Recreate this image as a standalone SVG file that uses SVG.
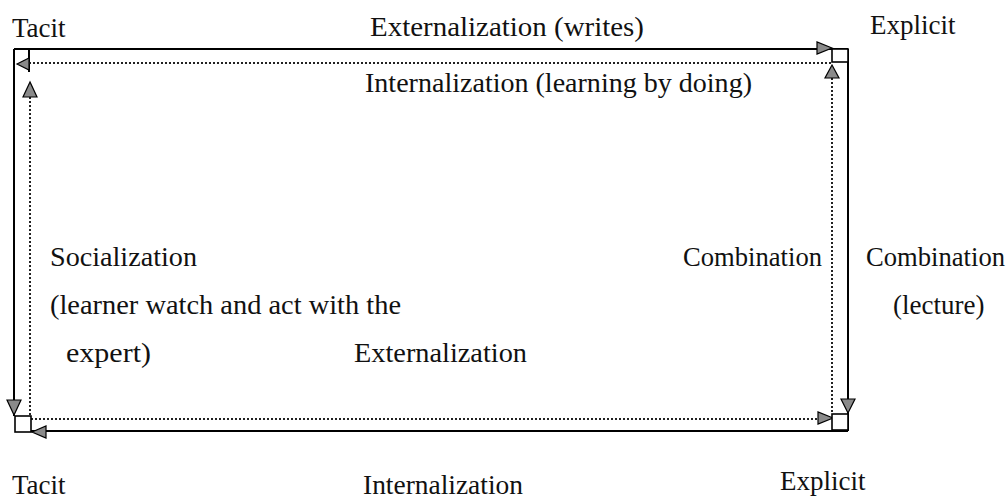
<svg xmlns="http://www.w3.org/2000/svg" width="1008" height="498" viewBox="0 0 1008 498">
<style>
  text { font-family: 'Liberation Serif', 'Times New Roman', serif; font-size: 27px; fill: #111; }
  .solid { stroke: #000; stroke-width: 2; fill: none; }
  .dot { stroke: #222; stroke-width: 2; stroke-dasharray: 2 2; fill: none; }
  .sq { stroke: #000; stroke-width: 1.6; fill: #fff; }
  .ah { fill: #8a8a8a; stroke: #000; stroke-width: 1.2; stroke-linejoin: miter; }
</style>
<rect width="1008" height="498" fill="#fff"/>

<g id="connectors">
  <path class="solid" d="M14,49 H848"/>
  <path class="solid" d="M848,49 V431"/>
  <path class="solid" d="M848,431 H31"/>
  <path class="solid" d="M14,49 V416"/>
  <path class="solid" d="M29,49 V72"/>
  <path class="dot" d="M29,63 H832"/>
  <path class="dot" d="M30,97 V416"/>
  <path class="dot" d="M31,419 H819"/>
  <path class="dot" d="M832,78 V414"/>
  <polygon class="ah" points="832,48 817,42 817,54"/>
  <polygon class="ah" points="848,413 841,399 855,399"/>
  <polygon class="ah" points="32,432 46,426 46,438"/>
  <polygon class="ah" points="14,415 7,400 21,400"/>
  <polygon class="ah" points="17,64 29,58 29,70"/>
  <polygon class="ah" points="30,82 23,97 37,97"/>
  <polygon class="ah" points="833,418 818,412 818,424"/>
  <polygon class="ah" points="832,65 825,78 839,78"/>
  <text x="370" y="36" textLength="274" lengthAdjust="spacingAndGlyphs">Externalization (writes)</text>
  <text x="365" y="92" textLength="387" lengthAdjust="spacingAndGlyphs">Internalization (learning by doing)</text>
  <text x="50" y="266" textLength="147" lengthAdjust="spacingAndGlyphs">Socialization</text>
  <text x="50" y="314" textLength="351" lengthAdjust="spacingAndGlyphs">(learner watch and act with the</text>
  <text x="66" y="362" textLength="85" lengthAdjust="spacingAndGlyphs">expert)</text>
  <text x="354" y="362" textLength="173" lengthAdjust="spacingAndGlyphs">Externalization</text>
  <text x="683" y="266" textLength="139" lengthAdjust="spacingAndGlyphs">Combination</text>
  <text x="866" y="266" textLength="139" lengthAdjust="spacingAndGlyphs">Combination</text>
  <text x="893" y="314">(lecture)</text>
  <text x="363" y="494" textLength="160" lengthAdjust="spacingAndGlyphs">Internalization</text>
</g>

<g id="node-tacit-top">
  <text x="12" y="37">Tacit</text>
</g>
<g id="node-explicit-top">
  <rect class="sq" x="832" y="49" width="16" height="13"/>
  <text x="870" y="34">Explicit</text>
</g>
<g id="node-tacit-bottom">
  <rect class="sq" x="15" y="416" width="16" height="16"/>
  <text x="12" y="494">Tacit</text>
</g>
<g id="node-explicit-bottom">
  <rect class="sq" x="832" y="414" width="16" height="16"/>
  <text x="780" y="490">Explicit</text>
</g>
</svg>
